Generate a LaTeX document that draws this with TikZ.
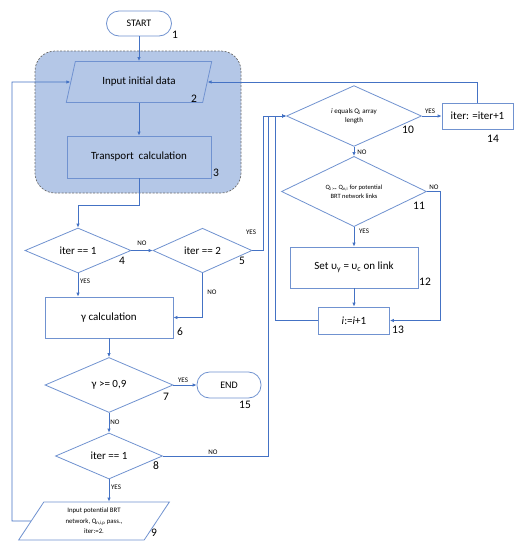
\documentclass[tikz,border=0pt]{standalone}
\usepackage{fontspec}
\setmainfont{Carlito}
\usetikzlibrary{positioning,shapes.geometric,arrows.meta}

\definecolor{flowline}{RGB}{68,114,196}
\definecolor{flowedge}{RGB}{112,146,208}
\definecolor{groupfill}{RGB}{180,199,231}
\definecolor{groupedge}{RGB}{110,110,110}

\tikzset{
        proc/.style={rectangle, draw=flowedge, line width=.8pt, inner sep=1pt, align=center,
                font=\fontsize{11}{13}\selectfont},
        term/.style={proc, rounded corners=12.5pt, font=\fontsize{10}{12}\selectfont},
        cond/.style={diamond, draw=flowedge, line width=.8pt, inner sep=0pt, align=center,
                font=\fontsize{11}{13}\selectfont},
        data/.style={trapezium, trapezium stretches=true, trapezium left angle=61,
                trapezium right angle=119, draw=flowedge, line width=.8pt, inner sep=0pt,
                align=center, font=\fontsize{11}{13}\selectfont},
        group/.style={fill=groupfill, draw=groupedge, line width=.7pt,
                dash pattern=on 2pt off 1.5pt, rounded corners=20pt},
        arr/.style={draw=flowline, line width=.8pt, -{Latex[length=4pt,width=3.5pt]}},
        lbl/.style={font=\fontsize{7}{8}\selectfont, inner sep=0pt},
        num/.style={font=\fontsize{11.5}{13}\selectfont, inner sep=0pt}
}

\begin{document}
\begin{tikzpicture}[x=1pt,y=-1pt]
        \useasboundingbox (0,0) rectangle (525,550);
        \fill[white] (0,0) rectangle (525,550);
        % steps 2 and 3
        \draw[group] (35,51) rectangle (241,193);

        \node[term, minimum width=65, minimum height=25] (start) at (139,23.5) {START};
        \node[data, minimum width=146, minimum height=41] (input) at (139,82) {Input initial data};
        \node[proc, minimum width=144, minimum height=42] (trans) at (139,157) {Transport\ \ calculation};
        \node[cond, minimum width=106, minimum height=45] (iterA) at (78,250.5) {iter == 1};
        \node[cond, minimum width=99, minimum height=44] (iterB) at (202.5,250.5) {iter == 2};
        \node[proc, minimum width=128, minimum height=41] (gamma) at (109,317.5) {γ calculation};
        \node[cond, minimum width=128, minimum height=55] (check) at (109,385) {γ >= 0,9};
        \node[term, minimum width=64, minimum height=26] (stop) at (229,385) {END};
        \node[cond, minimum width=107, minimum height=46] (iterC) at (109,456) {iter == 1};
        \node[data, minimum width=152, minimum height=38, font=\fontsize{6.8}{10.5}\selectfont]
                (brt) at (94,521) {Input potential BRT\\network, Q\textsubscript{n,i,p} pass.,\\iter:=2.};
        \node[cond, minimum width=135, minimum height=54, font=\fontsize{7}{9}\selectfont]
                (len) at (354,116) {\textit{i} equals Q\textsubscript{\textit{i}} array\\length};
        \node[proc, minimum width=71, minimum height=26] (next) at (477.5,116) {iter: =iter+1};
        \node[cond, minimum width=145, minimum height=57, font=\fontsize{6.5}{9}\selectfont]
                (links) at (354,191.5) {Q\textsubscript{i >=} Q\textsubscript{n,i} for potential\\BRT network links};
        \node[proc, minimum width=128, minimum height=41] (setv) at (354,267.5) {Set υ\textsubscript{y} = υ\textsubscript{c} on link};
        \node[proc, minimum width=71, minimum height=27] (inc) at (354,320.5) {\textit{i}:=\textit{i}+1};

        % step numbers
        \foreach \n/\p in {1/{175,35}, 2/{194,99}, 3/{216,173}, 4/{122,261}, 5/{242,261},
                6/{180,332}, 7/{166,397}, 8/{156,466}, 9/{154,533}, 10/{408,130},
                11/{419,206}, 12/{425,282}, 13/{398,330}, 14/{493,139}, 15/{245,405}} {
            \node[num] (num\n) at (\p) {\n};
        }
        \foreach \nm/\p/\t in {noA/{142,243}/NO, yesA/{85,281}/YES, yesB/{251,232}/YES,
                noB/{212,292}/NO, yesC/{183,380}/YES, noC/{115,422}/NO, yesD/{116,487}/YES,
                noD/{213,452}/NO, yesE/{430,111}/YES, noE/{362,152}/NO, noF/{434,187}/NO,
                yesF/{364,231}/YES} {
            \node[lbl] (\nm) at (\p) {\t};
        }

        \coordinate (c3) at (78,205);
        \coordinate (c9) at (12,82);
        \coordinate (c11) at (440,320.5);
        \coordinate (m1) at (263,116);
        \coordinate (m2) at (268,116);
        \coordinate (m3) at (275,116);

        \draw[arr] (start) -- (start |- input.north);
        \draw[arr] (trans |- input.south) -- (trans);
        \draw[arr] (trans) |- (c3) -- (iterA);
        \draw[arr] (iterA) -- (iterB);
        \draw[arr] (iterB) -| (m1) -- (len);
        \draw[arr] (iterA.south) -- (iterA.south |- gamma.north);
        \draw[arr] (iterB) |- (gamma);
        \draw[arr] (gamma) -- (check);
        \draw[arr] (check) -- (stop);
        \draw[arr] (check) -- (iterC);
        \draw[arr] (iterC) -| (m2) -- (len);
        \draw[arr] (iterC) -- (iterC |- brt.north);
        \draw[arr] (brt) -| (c9) -- (input);
        \draw[arr] (next) |- (input);
        \draw[arr] (len) -- (next);
        \draw[arr] (len) -- (links);
        \draw[arr] (links) -- (setv);
        \draw[arr] (links) -| (c11) -- (inc);
        \draw[arr] (setv) -- (inc);
        \draw[arr] (inc) -| (m3) -- (len);
\end{tikzpicture}
\end{document}
